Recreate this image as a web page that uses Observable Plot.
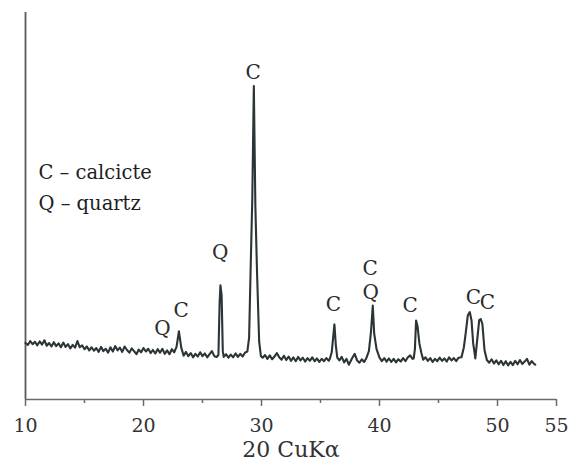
<!DOCTYPE html>
<html><head><meta charset="utf-8">
<script src="https://cdn.jsdelivr.net/npm/d3@7"></script>
<script src="https://cdn.jsdelivr.net/npm/@observablehq/plot@0.6"></script>
<style>body{margin:0;background:#fff}</style>
</head><body><div id="chart"></div>
<script>
// 2θ (degrees) and relative intensity (arbitrary units)
const twoTheta = [
10.0,10.2,10.4,10.6,10.8,11.0,11.2,11.4,11.6,11.8,12.0,12.2,12.4,12.6,12.8,13.0,13.2,13.4,13.6,13.8,
14.0,14.2,14.4,14.6,14.8,15.0,15.2,15.4,15.6,15.8,16.0,16.2,16.4,16.6,16.8,17.0,17.2,17.4,17.6,17.8,
18.0,18.2,18.4,18.6,18.8,19.0,19.2,19.4,19.6,19.8,20.0,20.2,20.4,20.6,20.8,21.0,21.2,21.4,21.6,21.8,
22.0,22.2,22.4,22.6,22.8,23.0,23.2,23.4,23.6,23.8,24.0,24.2,24.4,24.6,24.8,25.0,25.2,25.4,25.6,25.8,
26.0,26.2,26.35,26.45,26.52,26.62,26.72,26.8,27.0,27.2,27.4,27.6,27.8,28.0,28.2,28.4,28.6,28.8,28.95,
29.07,29.22,29.35,29.48,29.62,29.8,29.95,30.1,30.3,30.5,30.7,30.9,31.1,31.3,31.5,31.7,31.9,32.1,32.3,
32.5,32.7,32.9,33.1,33.3,33.5,33.7,33.9,34.1,34.3,34.5,34.7,34.9,35.1,35.3,35.5,35.7,35.8,35.95,36.07,
36.18,36.3,36.42,36.6,36.8,37.0,37.2,37.4,37.7,37.9,38.1,38.3,38.5,38.7,38.9,39.1,39.28,39.43,39.55,
39.75,40.0,40.2,40.4,40.6,40.8,41.0,41.2,41.4,41.6,41.8,42.0,42.2,42.4,42.6,42.8,42.9,43.0,43.1,43.22,
43.38,43.55,43.7,43.9,44.1,44.3,44.5,44.7,44.9,45.1,45.3,45.5,45.7,45.9,46.1,46.3,46.5,46.7,46.95,
47.15,47.3,47.48,47.65,47.8,47.94,48.12,48.3,48.45,48.58,48.72,48.9,49.1,49.3,49.5,49.7,49.9,50.1,
50.3,50.5,50.7,50.9,51.1,51.3,51.5,51.7,51.9,52.1,52.3,52.5,52.7,52.9,53.1,53.2
];
const intensity = [
14.6,14.1,15.1,14.3,14.9,14.0,15.0,14.2,15.3,13.9,14.6,13.7,14.8,13.8,14.5,13.5,14.7,13.6,14.3,13.2,
14.1,13.4,15.1,13.5,14.0,13.0,13.7,12.7,13.5,12.6,13.3,12.3,13.6,12.5,13.1,12.1,13.5,12.4,13.8,12.7,
13.4,12.3,13.7,12.8,12.1,13.2,12.5,11.7,12.9,12.2,13.3,12.4,13.1,12.0,12.8,11.9,13.0,12.1,13.1,11.8,
12.7,11.7,13.0,12.2,13.6,17.6,13.4,11.3,12.3,11.2,12.0,10.9,11.8,11.1,12.2,11.2,11.9,10.9,11.7,12.5,
11.2,11.0,11.5,25.0,29.5,27.0,12.5,11.0,11.7,10.8,11.6,10.9,11.9,11.0,11.8,11.1,12.1,12.4,16.0,
32.5,52.0,81.0,50.0,33.0,15.0,11.2,10.8,11.5,10.5,11.4,10.4,11.1,12.0,10.9,10.3,11.3,10.2,11.1,
10.0,10.9,9.9,11.0,10.1,10.8,9.8,10.7,10.0,10.9,9.9,10.6,9.7,10.5,9.9,10.7,10.0,10.6,12.2,16.0,
19.4,14.0,10.8,10.1,11.0,9.6,10.5,9.0,10.8,11.8,10.1,9.5,10.4,9.7,10.8,12.5,17.5,24.3,17.0,
13.0,10.8,9.9,10.7,9.8,10.6,9.7,10.5,9.6,10.4,9.8,10.7,9.9,10.9,11.4,10.5,10.6,13.0,20.4,19.0,
14.5,12.0,10.3,10.9,10.0,10.7,9.7,10.5,9.9,10.8,10.0,10.6,9.8,10.9,10.1,10.7,9.9,10.8,10.9,
13.5,17.0,21.7,22.6,20.4,14.5,10.6,16.0,20.5,20.8,19.5,12.7,10.2,9.5,10.4,9.3,10.1,9.1,
10.0,8.9,9.9,8.8,9.7,8.9,10.0,9.1,10.2,9.2,9.8,10.5,9.0,9.9,9.2,9.0
];
const tickValues = [10, 20, 30, 40, 50, 55];
const minorTicks = [15, 25, 35, 45];
// peak annotations
const peakLabels = ["Q", "C", "Q", "C", "C", "C", "Q", "C", "C", "C"];
const peakLabelX = [21.6, 23.2, 26.5, 29.3, 36.1, 39.2, 39.25, 42.6, 47.95, 49.15];
const peakLabelY = [18.3, 23.0, 38.0, 84.5, 24.5, 33.9, 27.6, 24.3, 26.4, 25.1];
const legendLines = ["C – calcicte", "Q – quartz"];
const legendY = [58.7, 50.6];
const axisTitle = "20 CuKα";

const data = twoTheta.map((x, i) => ({x, y: intensity[i]}));
const peaks = peakLabels.map((t, i) => ({t, x: peakLabelX[i], y: peakLabelY[i]}));
const legend = legendLines.map((t, i) => ({t, y: legendY[i]}));

const plot = Plot.plot({
  width: 571, height: 465,
  marginLeft: 25, marginRight: 15, marginTop: 12, marginBottom: 66,
  style: {fontFamily: "DejaVu Serif", background: "#fff"},
  x: {domain: [10, 55]},
  y: {domain: [0, 100], axis: null},
  marks: [
    Plot.ruleY([0], {stroke: "#686b6b", strokeWidth: 1.6}),
    Plot.ruleX([10], {stroke: "#555a5a", strokeWidth: 1.8}),
    Plot.axisX({ticks: minorTicks, tickSize: 4, tickFormat: () => "", label: null, stroke: "#686b6b", strokeWidth: 1.5}),
    Plot.axisX({ticks: tickValues, tickSize: 7, tickPadding: 12, tickFormat: d => String(d), label: null,
      fontSize: 19, stroke: "#686b6b", strokeWidth: 1.5, fill: "#333"}),
    Plot.line(data, {x: "x", y: "y", stroke: "#2b3436", strokeWidth: 2.1, strokeLinejoin: "round"}),
    Plot.text(peaks, {x: "x", y: "y", text: "t", fontSize: 20, fill: "#2b2b2b"}),
    Plot.text(legend, {x: 11.1, y: "y", text: "t", textAnchor: "start", fontSize: 19.5, fill: "#1e1e1e"}),
    Plot.text([axisTitle], {frameAnchor: "bottom", dy: 57, fontSize: 22, fill: "#333"})
  ]
});
document.getElementById("chart").appendChild(plot);
</script>
</body></html>
